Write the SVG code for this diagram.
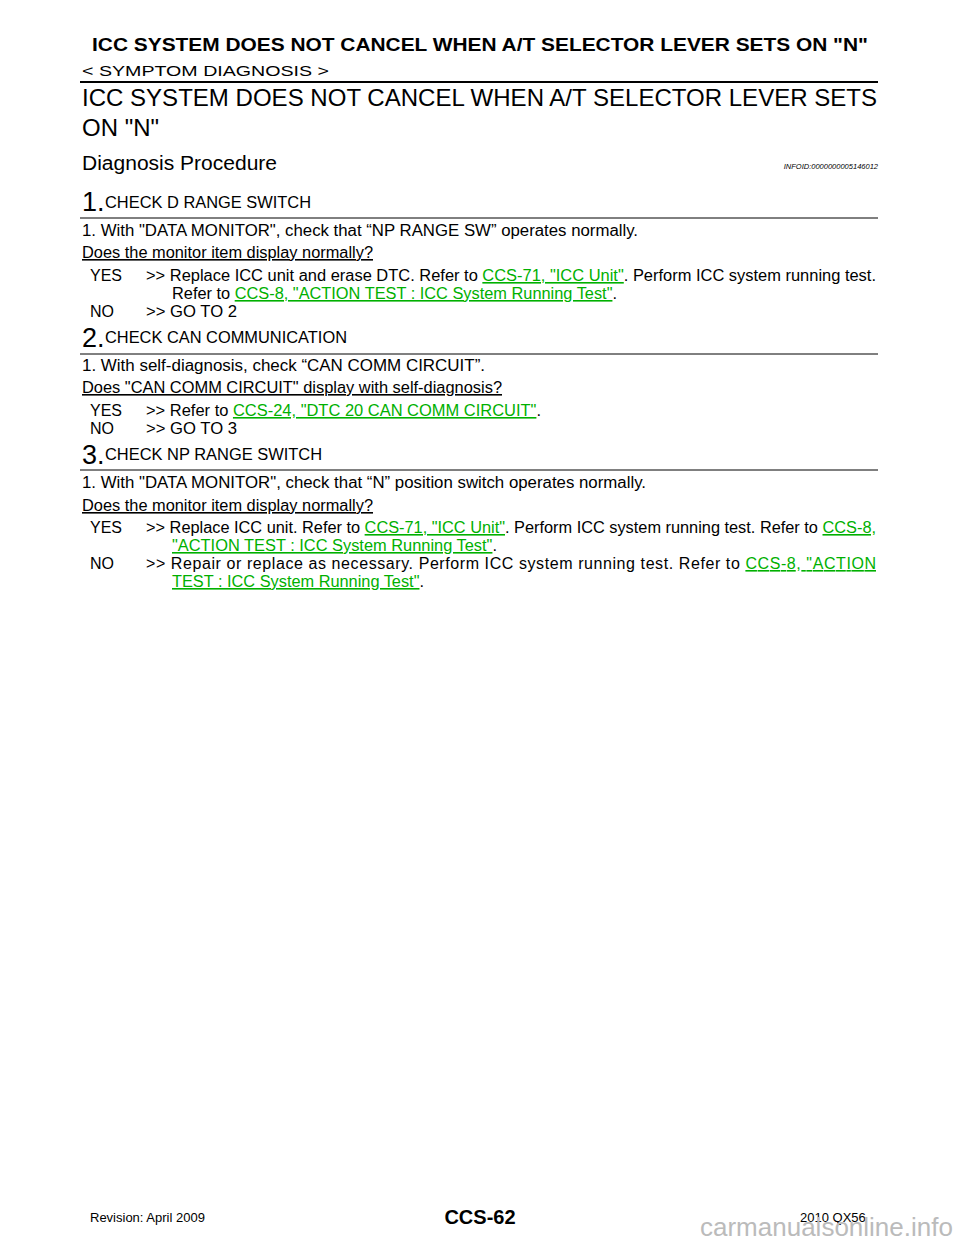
<svg xmlns="http://www.w3.org/2000/svg" width="960" height="1242" viewBox="0 0 960 1242">
<style>
text{font-family:"Liberation Sans",Arial,sans-serif;fill:#000}
.b{font-size:16px}
.n{font-size:27px}
.l{fill:#00b000;text-decoration:underline}
.u{text-decoration:underline}
</style>
<rect width="960" height="1242" fill="#fff"/>
<text x="480" y="51" text-anchor="middle" font-size="19" font-weight="bold" textLength="776" lengthAdjust="spacingAndGlyphs">ICC SYSTEM DOES NOT CANCEL WHEN A/T SELECTOR LEVER SETS ON "N"</text>
<text x="82" y="76" font-size="15" textLength="247" lengthAdjust="spacingAndGlyphs">&lt; SYMPTOM DIAGNOSIS &gt;</text>
<line x1="80" y1="82" x2="878" y2="82" stroke="#000" stroke-width="2"/>
<text x="82" y="106" font-size="24" textLength="795" lengthAdjust="spacingAndGlyphs">ICC SYSTEM DOES NOT CANCEL WHEN A/T SELECTOR LEVER SETS</text>
<text x="82" y="136" font-size="24" textLength="77" lengthAdjust="spacingAndGlyphs">ON "N"</text>
<text x="82" y="170" font-size="20" textLength="195" lengthAdjust="spacingAndGlyphs">Diagnosis Procedure</text>
<text x="878" y="169" font-size="7.5" font-style="italic" text-anchor="end">INFOID:0000000005146012</text>

<text x="82" y="211" class="n">1.</text><text x="105" y="208" class="b" textLength="206" lengthAdjust="spacingAndGlyphs">CHECK D RANGE SWITCH</text>
<line x1="80" y1="218" x2="878" y2="218" stroke="#000"/>
<text x="82" y="236" class="b" textLength="556" lengthAdjust="spacingAndGlyphs">1.  With "DATA MONITOR", check that “NP RANGE SW” operates normally.</text>
<text x="82" y="258" class="b u" textLength="291" lengthAdjust="spacingAndGlyphs">Does the monitor item display normally?</text>
<text x="90" y="281" class="b">YES</text><text x="146" y="281" class="b" textLength="730" lengthAdjust="spacingAndGlyphs">&gt;&gt; Replace ICC unit and erase DTC. Refer to <tspan class="l">CCS-71, "ICC Unit"</tspan>. Perform ICC system running test.</text>
<text x="172" y="299" class="b" textLength="445" lengthAdjust="spacingAndGlyphs">Refer to <tspan class="l">CCS-8, "ACTION TEST : ICC System Running Test"</tspan>.</text>
<text x="90" y="317" class="b">NO</text><text x="146" y="317" class="b" textLength="91" lengthAdjust="spacingAndGlyphs">&gt;&gt; GO TO 2</text>

<text x="82" y="347" class="n">2.</text><text x="105" y="343" class="b" textLength="242" lengthAdjust="spacingAndGlyphs">CHECK CAN COMMUNICATION</text>
<line x1="80" y1="354" x2="878" y2="354" stroke="#000"/>
<text x="82" y="371" class="b" textLength="403" lengthAdjust="spacingAndGlyphs">1.  With self-diagnosis, check “CAN COMM CIRCUIT”.</text>
<text x="82" y="393" class="b u" textLength="420" lengthAdjust="spacingAndGlyphs">Does "CAN COMM CIRCUIT" display with self-diagnosis?</text>
<text x="90" y="416" class="b">YES</text><text x="146" y="416" class="b" textLength="395" lengthAdjust="spacingAndGlyphs">&gt;&gt; Refer to <tspan class="l">CCS-24, "DTC 20 CAN COMM CIRCUIT"</tspan>.</text>
<text x="90" y="434" class="b">NO</text><text x="146" y="434" class="b" textLength="91" lengthAdjust="spacingAndGlyphs">&gt;&gt; GO TO 3</text>

<text x="82" y="464" class="n">3.</text><text x="105" y="460" class="b" textLength="217" lengthAdjust="spacingAndGlyphs">CHECK NP RANGE SWITCH</text>
<line x1="80" y1="470" x2="878" y2="470" stroke="#000"/>
<text x="82" y="488" class="b" textLength="564" lengthAdjust="spacingAndGlyphs">1.  With "DATA MONITOR", check that “N” position switch operates normally.</text>
<text x="82" y="511" class="b u" textLength="291" lengthAdjust="spacingAndGlyphs">Does the monitor item display normally?</text>
<text x="90" y="533" class="b">YES</text><text x="146" y="533" class="b" textLength="730" lengthAdjust="spacingAndGlyphs">&gt;&gt; Replace ICC unit. Refer to <tspan class="l">CCS-71, "ICC Unit"</tspan>. Perform ICC system running test. Refer to <tspan class="l">CCS-8,</tspan></text>
<text x="172" y="551" class="b" textLength="325" lengthAdjust="spacingAndGlyphs"><tspan class="l">"ACTION TEST : ICC System Running Test"</tspan>.</text>
<text x="90" y="569" class="b">NO</text><text x="146" y="569" class="b" textLength="730" lengthAdjust="spacing">&gt;&gt; Repair or replace as necessary. Perform ICC system running test. Refer to <tspan class="l">CCS-8, "ACTION</tspan></text>
<text x="172" y="587" class="b" textLength="252" lengthAdjust="spacingAndGlyphs"><tspan class="l">TEST : ICC System Running Test"</tspan>.</text>

<text x="90" y="1222" font-size="13">Revision: April 2009</text>
<text x="480" y="1224" text-anchor="middle" font-size="20" font-weight="bold">CCS-62</text>
<text x="800" y="1222" font-size="13">2010 QX56</text>
<text x="700" y="1236" font-size="26" style="fill:#bbb">carmanualsonline.info</text>
</svg>
